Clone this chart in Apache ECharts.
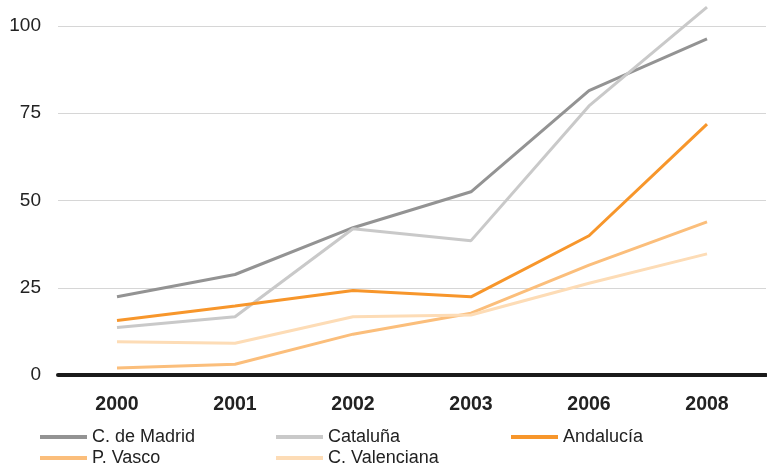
<!DOCTYPE html>
<html><head><meta charset="utf-8">
<script src="https://cdn.jsdelivr.net/npm/echarts@6/dist/echarts.min.js"></script>
<style>html,body{margin:0;padding:0;background:#fff}#c{width:767px;height:464px}</style>
</head><body><div id="c"></div>
<script>
const categories = ['2000','2001','2002','2003','2006','2008'];
const madrid = [22.4, 28.8, 42.2, 52.5, 81.5, 96.3];
const cataluna = [13.6, 16.7, 41.9, 38.5, 77.1, 105.4];
const andalucia = [15.6, 19.8, 24.2, 22.4, 39.9, 71.9];
const vasco = [2.0, 3.1, 11.7, 17.7, 31.5, 43.9];
const valenciana = [9.5, 9.1, 16.7, 17.2, 26.3, 34.7];
const yTicks = [0, 25, 50, 75, 100];

const seriesDefs = [
  {name:'C. de Madrid', data: madrid, color:'#939393'},
  {name:'Cataluña', data: cataluna, color:'#c9c9c9'},
  {name:'Andalucía', data: andalucia, color:'#f7962b'},
  {name:'P. Vasco', data: vasco, color:'#fbbe7b'},
  {name:'C. Valenciana', data: valenciana, color:'#fddcb6'}
];
const legendPos = [[40,428],[276,428],[511,428],[40,449],[276,449]];
const font = 'Liberation Sans, Arial, Helvetica, sans-serif';
const chart = echarts.init(document.getElementById('c'));
chart.setOption({
  animation: false,
  backgroundColor: '#fff',
  grid: {left: 58, right: 1, top: 26, bottom: 89},
  legend: seriesDefs.map((s, i) => ({
    left: legendPos[i][0], top: legendPos[i][1], padding: 0, itemGap: 0,
    icon: 'rect', itemWidth: 47, itemHeight: 4, selectedMode: false,
    textStyle: {fontFamily: font, fontSize: 18, color: '#222', padding: [0,0,0,0]},
    data: [s.name]
  })),
  xAxis: {
    type: 'category', data: categories, boundaryGap: true,
    axisLine: {show: true, lineStyle: {color: '#1a1a1a', width: 4}},
    axisTick: {show: false},
    axisLabel: {fontFamily: font, fontSize: 19.5, fontWeight: 'bold', color: '#222', margin: 20}
  },
  yAxis: {
    type: 'value', min: yTicks[0], max: yTicks[yTicks.length-1], interval: 25,
    axisLine: {show: false}, axisTick: {show: false},
    axisLabel: {fontFamily: font, fontSize: 19, color: '#222', margin: 17},
    splitLine: {lineStyle: {color: '#d6d6d6', width: 1}}
  },
  series: seriesDefs.map(s => ({
    name: s.name, type: 'line', data: s.data, symbol: 'none', clip: false,
    lineStyle: {color: s.color, width: 3}, itemStyle: {color: s.color}
  }))
});
</script></body></html>
